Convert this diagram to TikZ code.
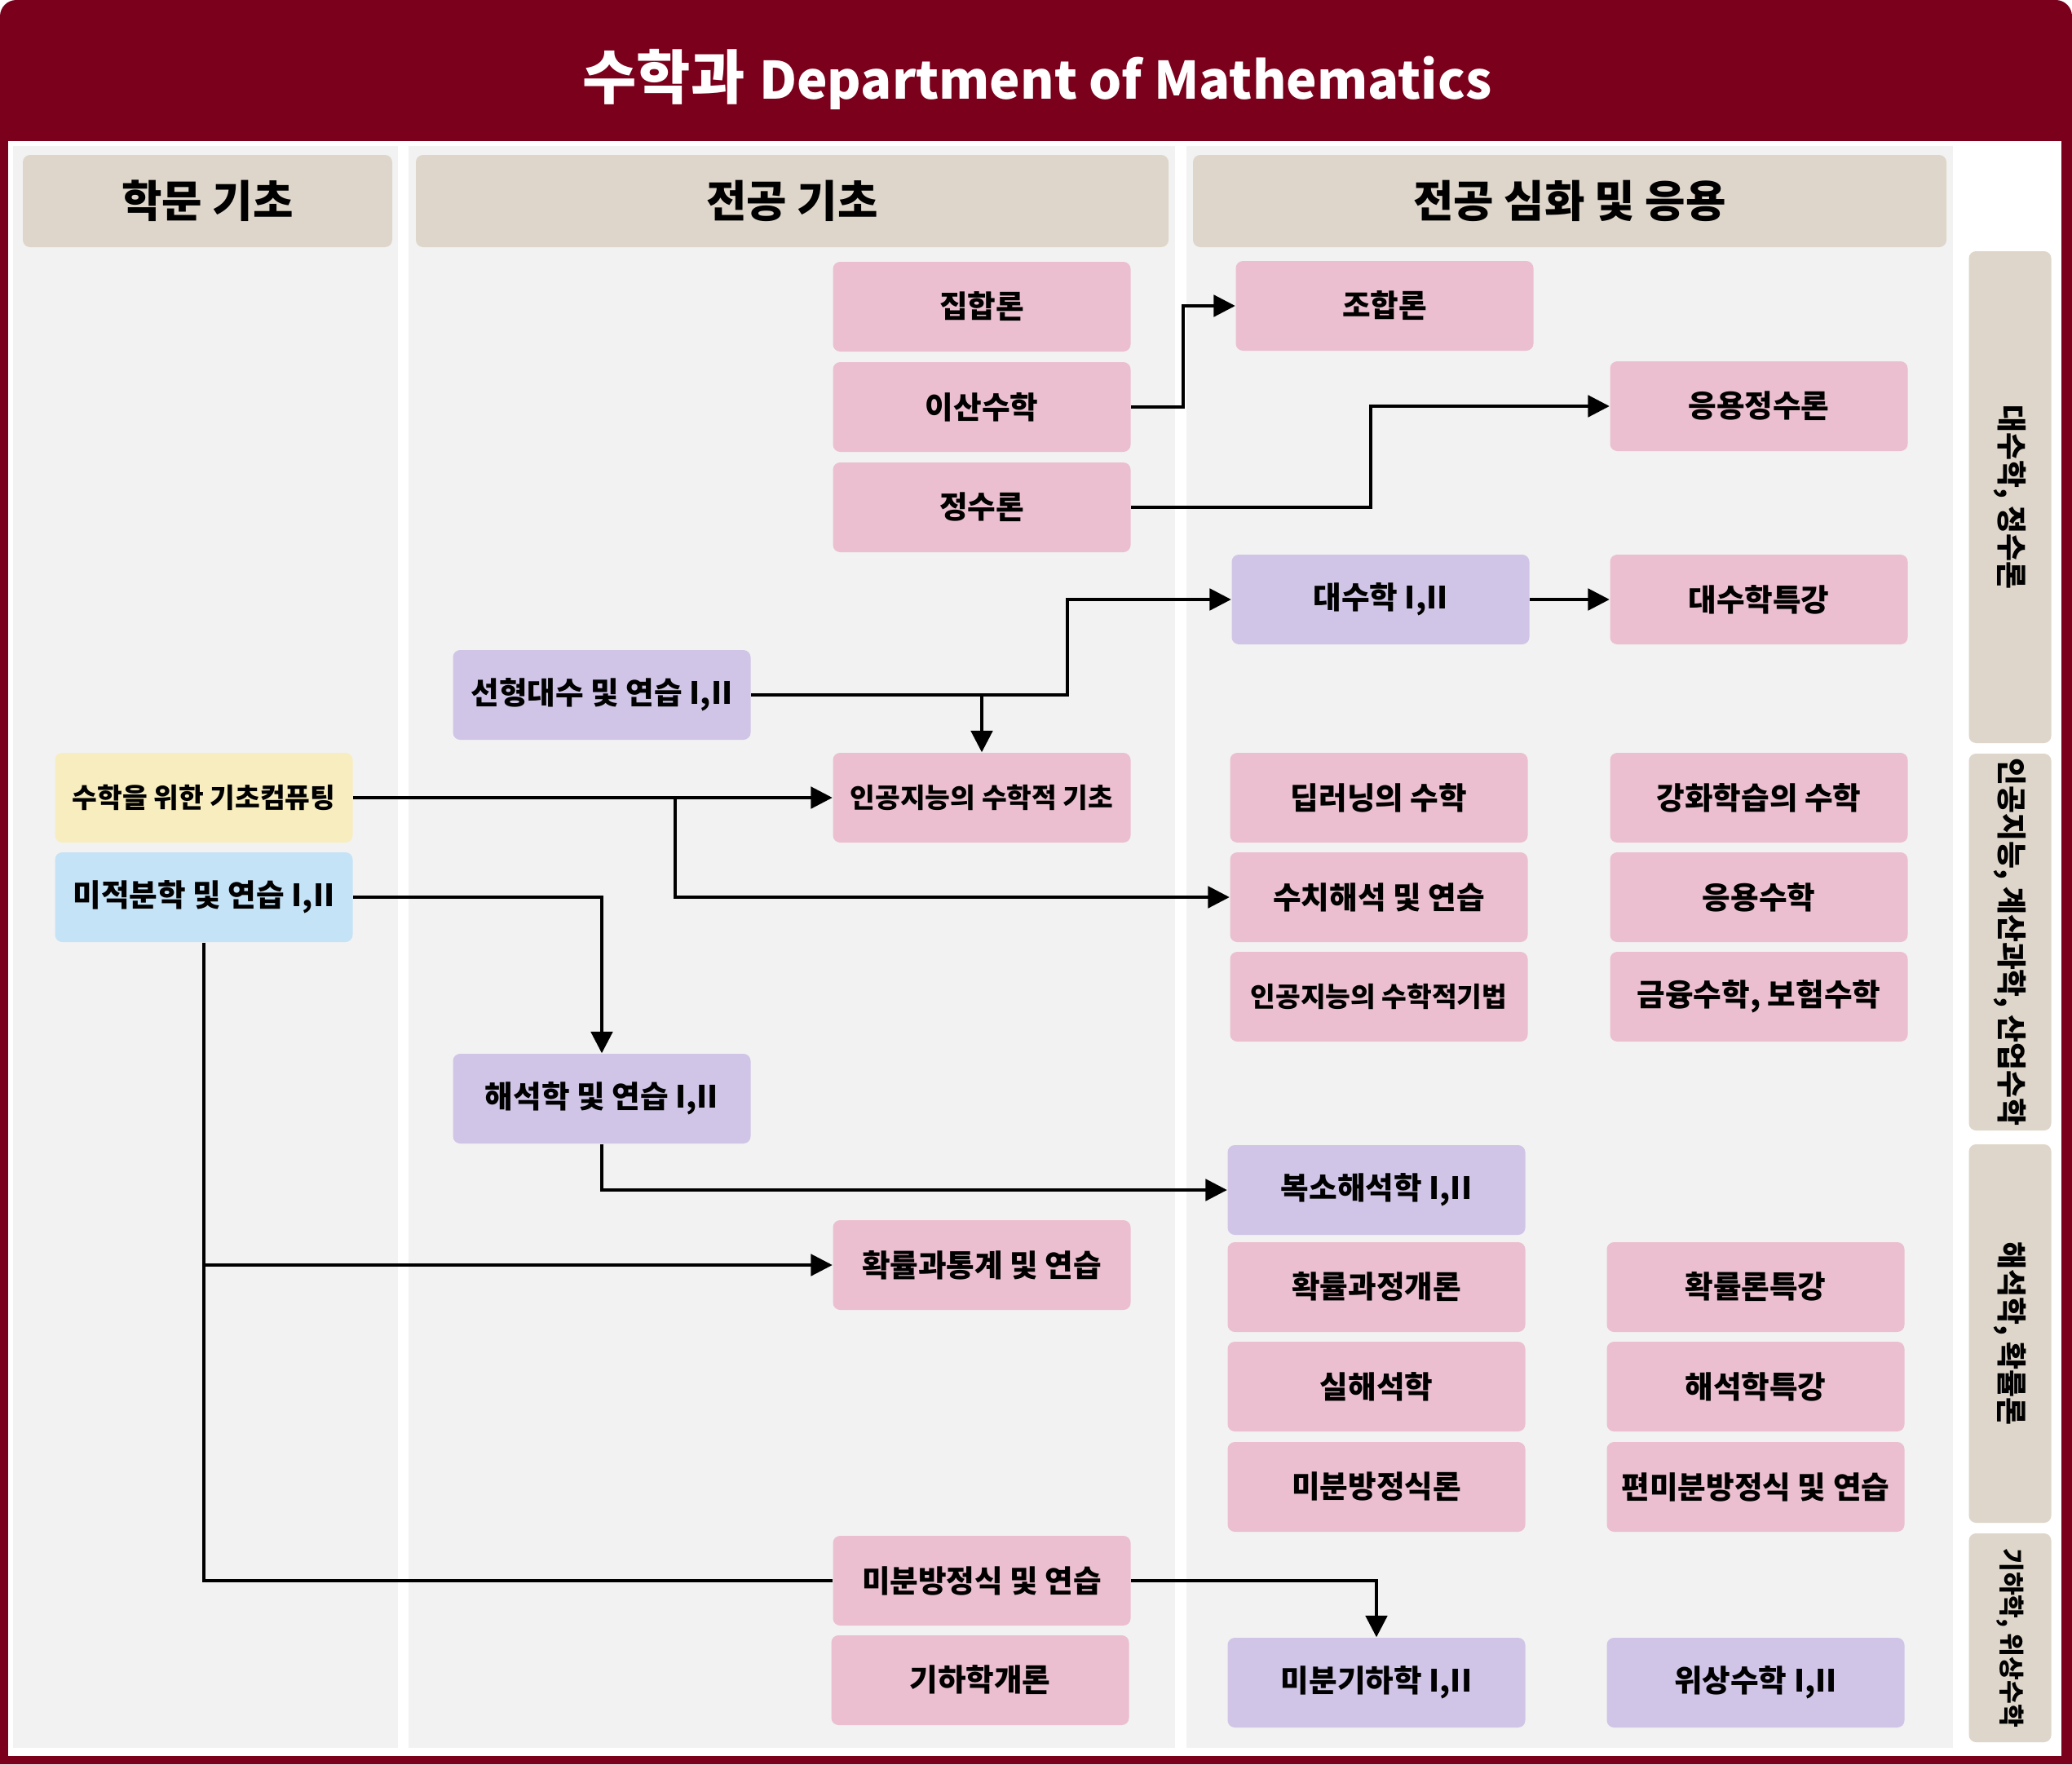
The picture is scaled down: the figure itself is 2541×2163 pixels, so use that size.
\documentclass[tikz,border=0pt]{standalone}
\usepackage{fontspec}
\setmainfont{Noto Sans CJK KR}
\usepackage{tikz}
\usetikzlibrary{arrows.meta}
\definecolor{deptred}{RGB}{123,0,28}
\definecolor{pagegrey}{RGB}{242,242,242}
\definecolor{sand}{RGB}{222,214,202}
\definecolor{pinkbox}{RGB}{235,191,207}
\definecolor{lilac}{RGB}{208,197,230}
\definecolor{cream}{RGB}{248,237,190}
\definecolor{skyblue}{RGB}{197,227,247}

\begin{document}
\begin{tikzpicture}[
  x=0.1mm, y=-0.1mm,
  every node/.style={inner sep=0pt, font=\bfseries\fontsize{10.7}{12}\selectfont},
  crs/.style={rounded corners=2.5pt, minimum width=36.5mm, minimum height=11mm, align=center},
  pk/.style={crs, fill=pinkbox},
  pu/.style={crs, fill=lilac},
  ye/.style={crs, fill=cream},
  bl/.style={crs, fill=skyblue},
  sm/.style={font=\bfseries\fontsize{9.5}{11}\selectfont},
  hdr/.style={fill=sand, rounded corners=2.5pt, minimum height=11.3mm, font=\bfseries\fontsize{15.3}{17}\selectfont},
  side/.style={fill=sand, rounded corners=2.5pt, rotate=-90, minimum height=10.1mm, font=\bfseries\fontsize{10.5}{12}\selectfont},
  arr/.style={line width=1.1pt, -{Triangle[length=7.5pt,width=7.5pt]}},
  ln/.style={line width=1.1pt}
]
\useasboundingbox (0,0) rectangle (2541,2163);
% frame and columns
\fill[deptred] (0,2163) [rounded corners=2mm] -- (0,0) -- (2541,0) [sharp corners] -- (2541,2163) -- cycle;
\fill[white] (10,173) rectangle (2528,2153);
\fill[pagegrey] (16,179) rectangle (488,2143);
\fill[pagegrey] (501,179) rectangle (1441,2143);
\fill[pagegrey] (1455,179) rectangle (2395,2143);
\node[text=white] (title) at (1272,97) {{\fontsize{20.5}{24}\selectfont 수학과}\hspace{5pt}{\fontsize{18}{22}\selectfont Department of Mathematics}};
\node[hdr, minimum width=45.3mm] (h1) at (254.5,246.5) {학문 기초};
\node[hdr, minimum width=92.3mm] (h2) at (971.5,246.5) {전공 기초};
\node[hdr, minimum width=92.4mm] (h3) at (1925,246.5) {전공 심화 및 응용};
\node[side, minimum width=60.3mm] (s1) at (2465,609.5) {대수학, 정수론};
\node[side, minimum width=46.2mm] (s2) at (2465,1155) {인공지능, 계산과학, 산업수학};
\node[side, minimum width=46.4mm] (s3) at (2465,1635) {해석학, 확률론};
\node[side, minimum width=25.6mm, font=\bfseries\fontsize{8.9}{10}\selectfont] (s4) at (2465,2008) {기하학, 위상수학};

% 학문 기초
\node[ye, sm] (comp) at (250,978) {수학을 위한 기초컴퓨팅};
\node[bl] (calc) at (250,1100) {미적분학 및 연습 I,II};

% 전공 기초
\node[pk] (set) at (1204,376) {집합론};
\node[pk] (dmath) at (1204,499) {이산수학};
\node[pk] (numth) at (1204,622) {정수론};
\node[pu] (linalg) at (738,852) {선형대수 및 연습 I,II};
\node[pk, sm] (aifnd) at (1204,978) {인공지능의 수학적 기초};
\node[pu] (anal) at (738,1347) {해석학 및 연습 I,II};
\node[pk] (prob) at (1204,1551) {확률과통계 및 연습};
\node[pk] (ode) at (1204,1938) {미분방정식 및 연습};
\node[pk] (geom) at (1202,2060) {기하학개론};

% 전공 심화 및 응용
\node[pk] (comb) at (1698,375) {조합론};
\node[pk] (ant) at (2157,498) {응용정수론};
\node[pu] (alg) at (1693,735) {대수학 I,II};
\node[pk] (algsp) at (2157,735) {대수학특강};
\node[pk] (dl) at (1691,978) {딥러닝의 수학};
\node[pk] (rl) at (2157,978) {강화학습의 수학};
\node[pk] (numan) at (1691,1100) {수치해석 및 연습};
\node[pk] (appm) at (2157,1100) {응용수학};
\node[pk, sm] (aitech) at (1691,1222) {인공지능의 수학적기법};
\node[pk] (fin) at (2157,1222) {금융수학, 보험수학};
\node[pu] (cplx) at (1688,1459) {복소해석학 I,II};
\node[pk] (stoch) at (1688,1578) {확률과정개론};
\node[pk] (probsp) at (2153,1578) {확률론특강};
\node[pk] (real) at (1688,1700) {실해석학};
\node[pk] (analsp) at (2153,1700) {해석학특강};
\node[pk] (odeth) at (1688,1823) {미분방정식론};
\node[pk] (pde) at (2153,1823) {편미분방정식 및 연습};
\node[pu] (dgeo) at (1688,2063) {미분기하학 I,II};
\node[pu] (topo) at (2153,2063) {위상수학 I,II};

% connectors
\draw[arr] (dmath.east) -- ++(64,0) |- (comb.west);
\draw[arr] (numth.east) -- ++(294,0) |- (ant.west);
\draw[arr] (linalg.east) -- ++(388,0) |- (alg.west);
\draw[arr] (linalg.east -| aifnd.north) -- (aifnd.north);
\draw[arr] (alg.east) -- (algsp.west);
\draw[arr] (comp.east) -- (aifnd.west);
\coordinate (cbr) at (828,978);
\draw[arr] (cbr) |- (numan.west);
\draw[arr] (calc.east) -| (anal.north);
\draw[arr] (anal.south) |- (cplx.west);
\draw[ln] (calc.south) |- (ode.west);
\draw[arr] (calc.south |- prob.west) -- (prob.west);
\draw[arr] (ode.east) -| (dgeo.north);
\end{tikzpicture}
\end{document}
